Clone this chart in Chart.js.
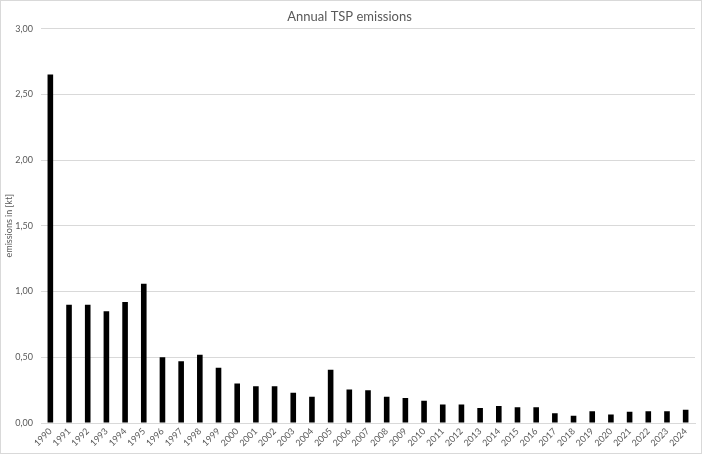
<!DOCTYPE html>
<html>
<head>
<meta charset="utf-8">
<script src="https://cdn.jsdelivr.net/npm/chart.js@4"></script>
<style>
    html, body { margin: 0; padding: 0; background: #fff; }
    .box {
        width: 700px;
        height: 452px;
        border: 1px solid #d9d9d9;
        position: relative;
    }
</style>
</head>
<body>
<div class="box">
    <canvas id="tspChart" width="700" height="452"></canvas>
</div>
<script>
// 数据
const years = ['1990', '1991', '1992', '1993', '1994', '1995', '1996', '1997', '1998', '1999',
    '2000', '2001', '2002', '2003', '2004', '2005', '2006', '2007', '2008', '2009',
    '2010', '2011', '2012', '2013', '2014', '2015', '2016', '2017', '2018', '2019',
    '2020', '2021', '2022', '2023', '2024'];
const tspValues = [2.65, 0.90, 0.90, 0.85, 0.92, 1.06, 0.50, 0.47, 0.52, 0.42,
    0.30, 0.28, 0.28, 0.23, 0.20, 0.405, 0.255, 0.25, 0.20, 0.19,
    0.17, 0.14, 0.14, 0.115, 0.13, 0.12, 0.12, 0.075, 0.055, 0.09,
    0.065, 0.085, 0.09, 0.09, 0.10];
const yTicks = [0, 0.5, 1, 1.5, 2, 2.5, 3];

const grey = '#595959';
const gridGrey = '#d9d9d9';

const tspChart = new Chart(
    document.getElementById('tspChart'),
    {
        type: 'bar',
        data: {
            labels: years,
            datasets: [{
                label: 'TSP',
                data: tspValues,
                backgroundColor: '#000000',
                categoryPercentage: 1,
                barPercentage: 0.3
            }]
        },
        options: {
            responsive: false,
            animation: false,
            layout: {
                padding: { left: 3, right: 6, top: 0, bottom: 3 }
            },
            plugins: {
                legend: { display: false },
                tooltip: { enabled: false },
                title: {
                    display: true,
                    text: 'Annual TSP emissions',
                    color: grey,
                    font: { family: 'Lato', size: 13, weight: 'normal' },
                    padding: { top: 8, bottom: 4 }
                }
            },
            scales: {
                y: {
                    min: 0,
                    max: 3,
                    afterBuildTicks: function(scale) {
                        scale.ticks = yTicks.map(v => ({ value: v }));
                    },
                    afterFit: function(scale) {
                        scale.width = 37;
                    },
                    border: { display: false },
                    grid: { color: gridGrey, drawTicks: false },
                    ticks: {
                        color: grey,
                        padding: 8,
                        font: { family: 'Lato', size: 9 },
                        callback: value => value.toFixed(2).replace('.', ',')
                    },
                    title: {
                        display: true,
                        text: 'emissions in [kt]',
                        color: grey,
                        padding: 0,
                        font: { family: 'Lato', size: 9 }
                    }
                },
                x: {
                    afterFit: function(scale) {
                        scale.height = 27;
                    },
                    border: { display: true, color: gridGrey },
                    grid: { display: false, drawTicks: false },
                    ticks: {
                        color: grey,
                        minRotation: 45,
                        maxRotation: 45,
                        autoSkip: false,
                        padding: 3,
                        font: { family: 'Lato', size: 9 }
                    }
                }
            }
        }
    }
);
</script>
</body>
</html>
